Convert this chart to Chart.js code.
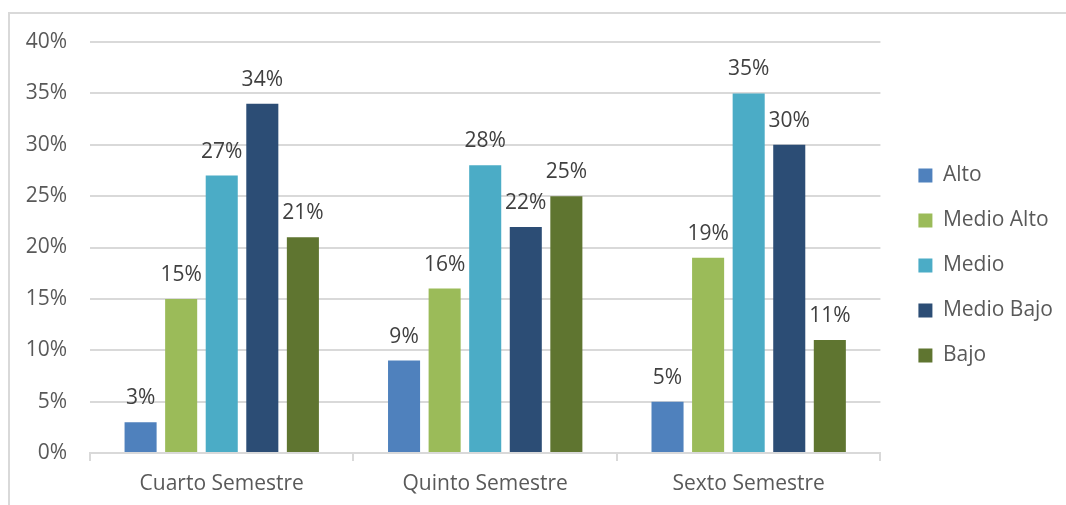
<!DOCTYPE html>
<html>
<head>
<meta charset="utf-8">
<script src="https://cdn.jsdelivr.net/npm/chart.js@4.4.1/dist/chart.umd.min.js"></script>
<style>
  html, body { margin: 0; padding: 0; background: #fff; overflow: hidden; }
  #box { position: absolute; left: 8px; top: 12px; width: 1066px; height: 500px; border: 2px solid #d9d9d9; }
  #c { position: absolute; left: 0; top: 0; }
</style>
</head>
<body>
<div id="box"><canvas id="c" width="1056" height="493"></canvas></div>
<script>
// data
var semestres = ['Cuarto Semestre', 'Quinto Semestre', 'Sexto Semestre'];
var alto       = [3, 9, 5];
var medioAlto  = [15, 16, 19];
var medio      = [27, 28, 35];
var medioBajo  = [34, 22, 30];
var bajo       = [21, 25, 11];
var niveles = ['Alto', 'Medio Alto', 'Medio', 'Medio Bajo', 'Bajo'];
var colores = ['#4f81bd', '#9bbb59', '#4bacc6', '#2c4d75', '#5f7530'];

var fuente = "'Open Sans', sans-serif";

// labels above each bar
var etiquetas = {
	id: 'etiquetas',
	afterDatasetsDraw: function(chart){
		var ctx = chart.ctx;
		ctx.save();
		ctx.font = '21px ' + fuente;
		ctx.fillStyle = '#404040';
		ctx.textAlign = 'center';
		ctx.textBaseline = 'alphabetic';
		chart.data.datasets.forEach(function(ds, i){
			chart.getDatasetMeta(i).data.forEach(function(bar, j){
				ctx.fillText(ds.data[j] + '%', bar.x, bar.y - 18);
			});
		});
		ctx.restore();
	}
};

// nudge legend a bit like excel
var moverLeyenda = {
	id: 'moverLeyenda',
	afterLayout: function(chart){
		var l = chart.legend;
		var dx = 14, dy = -9;
		l.left += dx; l.right += dx;
		l.top += dy; l.bottom += dy;
	}
};

var series = [alto, medioAlto, medio, medioBajo, bajo];
var datasets = [];
for (var i = 0; i < niveles.length; i++) {
	datasets.push({
		label: niveles[i],
		data: series[i],
		backgroundColor: colores[i],
		borderWidth: 0,
		categoryPercentage: 0.77,
		barPercentage: 0.79
	});
}

new Chart(document.getElementById('c'), {
	type: 'bar',
	data: { labels: semestres, datasets: datasets },
	plugins: [etiquetas, moverLeyenda],
	options: {
		responsive: false,
		animation: false,
		layout: { padding: { left: 0, top: 28, right: 17, bottom: 0 } },
		plugins: {
			tooltip: { enabled: false },
			legend: {
				position: 'right',
				labels: {
					boxWidth: 14,
					boxHeight: 14,
					padding: 24,
					color: '#595959',
					font: { family: fuente, size: 21 }
				}
			}
		},
		scales: {
			x: {
				grid: { offset: true, drawOnChartArea: false, drawTicks: true, tickLength: 8, color: '#d9d9d9', lineWidth: 2 },
				border: { display: true, color: '#d9d9d9', width: 2 },
				ticks: { color: '#595959', padding: 10, font: { family: fuente, size: 21 } },
				afterFit: function(s){ s.height = 54; }
			},
			y: {
				min: 0,
				max: 40,
				grid: { color: '#d9d9d9', lineWidth: 2, drawTicks: false },
				border: { display: false },
				ticks: {
					stepSize: 5,
					padding: 23,
					color: '#595959',
					font: { family: fuente, size: 21 },
					callback: function(v){ return v + '%'; }
				},
				afterFit: function(s){ s.width = 80; s.paddingTop = 0; s.paddingBottom = 0; }
			}
		}
	}
});
</script>
</body>
</html>
